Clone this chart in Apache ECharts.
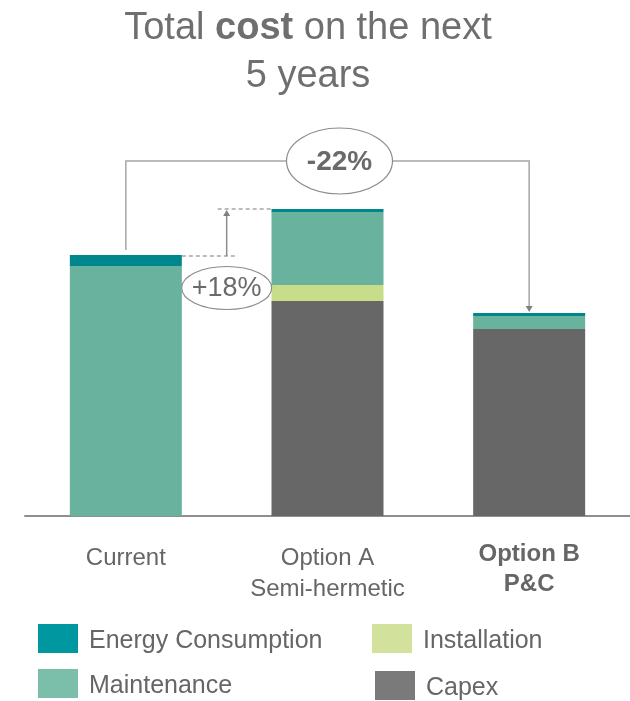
<!DOCTYPE html>
<html>
<head>
<meta charset="utf-8">
<script src="https://cdn.jsdelivr.net/npm/echarts@6/dist/echarts.min.js"></script>
<style>html,body{margin:0;padding:0;background:#fff}#c{width:630px;height:701px}</style>
</head>
<body>
<div id="c"></div>
<script>
// ---- data ----
var categories = ['Current', 'Option A\nSemi-hermetic', 'Option B\nP&C'];
var capex       = [null, 215, 187];
var installation= [null, 16, null];
var maintenance = [250, 73, 13];
var energy      = [11, 3, 3];
var increaseLabel = '+18%';
var decreaseLabel = '-22%';

var FONT = '"Liberation Sans", Arial, sans-serif';
var TXT = '#666666';
var chart = echarts.init(document.getElementById('c'));

function seg(name, data, color) {
  return { name: name, type: 'bar', stack: 'total', data: data, barWidth: 112,
    itemStyle: { color: color }, emphasis: { disabled: true }, silent: true };
}
function legendAt(left, top, items) {
  return { left: left, top: top, orient: 'vertical', itemWidth: 40, itemHeight: 29, itemGap: 15, padding: 0,
    icon: 'rect', selectedMode: false,
    formatter: function (n) { return '{t|' + n + '}'; },
    textStyle: { fontSize: 25, color: TXT, fontFamily: FONT,
      rich: { t: { fontSize: 25, color: TXT, fontFamily: FONT, padding: [6, 0, 0, 6] } } },
    data: items };
}

chart.setOption({
  animation: false,
  backgroundColor: '#fff',
  textStyle: { fontFamily: FONT },
  title: {
    left: 303, top: 0, textAlign: 'center',
    text: '{n|Total }{b|cost}{n| on the next}\n{n|5 years}',
    textStyle: {
      fontWeight: 'normal',
      rich: {
        n: { fontSize: 38, color: '#6f6f6f', fontFamily: FONT, fontWeight: 'normal', lineHeight: 48 },
        b: { fontSize: 38, color: '#6f6f6f', fontFamily: FONT, fontWeight: 'bold', lineHeight: 48 }
      }
    }
  },
  grid: { left: 25, right: 0, top: 116, bottom: 185 },
  xAxis: {
    type: 'category', data: categories,
    axisLine: { lineStyle: { color: '#8f8f8f', width: 2 } },
    axisTick: { show: false },
    axisLabel: {
      margin: 27, interval: 0,
      formatter: function (v, i) {
        var lines = v.split('\n');
        if (i === 2) return lines.map(function (s, k) { return '{b' + (k + 1) + '|' + s + '}'; }).join('\n');
        return lines.map(function (s) { return '{n|' + s + '}'; }).join('\n');
      },
      rich: {
        n: { fontSize: 24, color: TXT, fontFamily: FONT, lineHeight: 31 },
        b1: { fontSize: 24, color: TXT, fontFamily: FONT, fontWeight: 'bold', lineHeight: 22 },
        b2: { fontSize: 24, color: TXT, fontFamily: FONT, fontWeight: 'bold', lineHeight: 38 }
      }
    }
  },
  yAxis: { type: 'value', min: 0, max: 400, show: false, splitLine: { show: false } },
  legend: [
    legendAt(38, 624, [ { name: 'Energy Consumption', itemStyle: { color: '#0097a0' } },
                        { name: 'Maintenance', itemStyle: { color: '#7bbfab' } } ]),
    legendAt(372, 624, [ { name: 'Installation', itemStyle: { color: '#d2e29c' } } ]),
    legendAt(375, 671, [ { name: 'Capex', itemStyle: { color: '#7a7a7a' } } ])
  ],
  series: [
    seg('Capex', capex, '#676767'),
    seg('Installation', installation, '#c8dd8a'),
    seg('Maintenance', maintenance, '#69b39e'),
    seg('Energy Consumption', energy, '#00878d')
  ]
});

// ---- annotations positioned from the data ----
function total(i) {
  return [capex, installation, maintenance, energy].reduce(function (s, a) { return s + (a[i] || 0); }, 0);
}
function px(i) { return chart.convertToPixel({ seriesIndex: 0 }, [i, total(i)]); }
var p0 = px(0), pA = px(1), pB = px(2);
var half = 56;
var lineC = '#a6a6a6', ellC = '#8c8c8c';
var bracketY = pA[1] - 48;
var ell22x = pA[0] + 12;
var g = [];
// -22% bracket
g.push({ type: 'polyline', shape: { points: [[p0[0], p0[1] - 5], [p0[0], bracketY], [ell22x - 53, bracketY]] },
  style: { stroke: lineC, lineWidth: 1.5, fill: null }, z: 10 });
g.push({ type: 'polyline', shape: { points: [[ell22x + 53, bracketY], [pB[0], bracketY], [pB[0], pB[1] - 6]] },
  style: { stroke: lineC, lineWidth: 1.5, fill: null }, z: 10 });
g.push({ type: 'polygon', shape: { points: [[pB[0] - 3.5, pB[1] - 7], [pB[0] + 3.5, pB[1] - 7], [pB[0], pB[1] - 1]] },
  style: { fill: '#808080' }, z: 10 });
g.push({ type: 'ellipse', shape: { cx: ell22x, cy: bracketY, rx: 53, ry: 33 },
  style: { fill: '#fff', stroke: ellC, lineWidth: 1.2 }, z: 11 });
g.push({ type: 'text', x: ell22x, y: bracketY + 1, z: 12,
  style: { text: decreaseLabel, fontSize: 28, fontWeight: 'bold', fill: '#6a6a6a', fontFamily: FONT, align: 'center', verticalAlign: 'middle' } });
// +18%
var midX = (p0[0] + half + pA[0] - half) / 2;
g.push({ type: 'line', shape: { x1: p0[0] + half, y1: p0[1] + 1, x2: midX + 9, y2: p0[1] + 1 },
  style: { stroke: lineC, lineWidth: 1.5, lineDash: [4, 3] }, z: 10 });
g.push({ type: 'line', shape: { x1: midX - 9, y1: pA[1], x2: pA[0] - half, y2: pA[1] },
  style: { stroke: lineC, lineWidth: 1.5, lineDash: [4, 3] }, z: 10 });
g.push({ type: 'line', shape: { x1: midX, y1: p0[1] + 1, x2: midX, y2: pA[1] + 6 },
  style: { stroke: '#8c8c8c', lineWidth: 1.5 }, z: 10 });
g.push({ type: 'polygon', shape: { points: [[midX - 3.5, pA[1] + 7], [midX + 3.5, pA[1] + 7], [midX, pA[1] + 1]] },
  style: { fill: '#808080' }, z: 10 });
g.push({ type: 'ellipse', shape: { cx: midX, cy: p0[1] + 33, rx: 45, ry: 21.5 },
  style: { fill: '#fff', stroke: ellC, lineWidth: 1.2 }, z: 11 });
g.push({ type: 'text', x: midX, y: p0[1] + 34, z: 12,
  style: { text: increaseLabel, fontSize: 27, fill: '#6a6a6a', fontFamily: FONT, align: 'center', verticalAlign: 'middle' } });
chart.setOption({ graphic: g });
</script>
</body>
</html>
